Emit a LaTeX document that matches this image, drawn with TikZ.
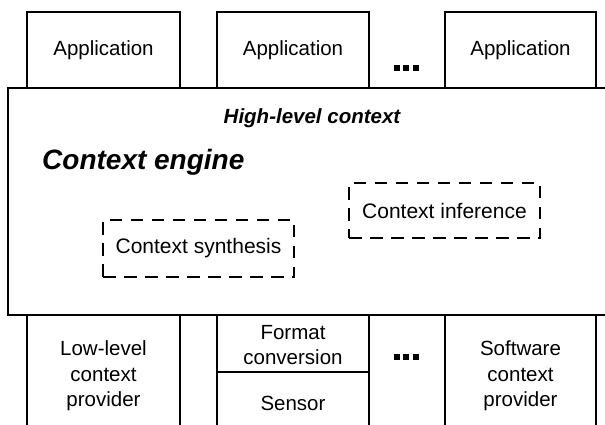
\documentclass[tikz,border=0pt]{standalone}
\usepackage{fontspec}
\setmainfont{Liberation Sans}
\begin{document}
\begin{tikzpicture}[x=1pt,y=-1pt,
  box/.style={draw,line width=1.5pt},
  lbl/.style={font=\fontsize{20.5}{25.5}\selectfont, align=center, inner sep=0pt},
  dbox/.style={draw, line width=2pt, dash pattern=on 12.5pt off 8.5pt, inner sep=0pt,
    font=\fontsize{21}{24}\selectfont},
  dots/.style={inner sep=0pt}]
\useasboundingbox (0,0) rectangle (605,424);
\clip (0,0) rectangle (605,424);
% top applications
\draw[box] (27,12) rectangle (180,88);
\draw[box] (217,12) rectangle (369,88);
\draw[box] (445,12) rectangle (596,88);
\node[lbl] (app1) at (103.5,50) {Application};
\node[lbl] (app2) at (293,50) {Application};
\node[lbl] (app3) at (520.5,50) {Application};
\node[dots] (dtop) at (406,68) {\rule{6pt}{6pt}\hspace{3.5pt}\rule{6pt}{6pt}\hspace{3.5pt}\rule{6pt}{6pt}};
% bottom providers
\draw[box] (27,315) rectangle (180,440);
\draw[box] (217,315) rectangle (369,440);
\draw[box] (217,372) -- (369,372);
\draw[box] (445,315) rectangle (596,440);
\node[lbl] (low) at (103.5,376) {Low-level\\context\\provider};
\node[lbl] (fmt) at (293,345) {Format\\conversion};
\node[lbl] (sen) at (293,403) {Sensor};
\node[lbl] (soft) at (520.5,376) {Software\\context\\provider};
\node[dots] (dbot) at (406,357) {\rule{6pt}{6pt}\hspace{3.5pt}\rule{6pt}{6pt}\hspace{3.5pt}\rule{6pt}{6pt}};
% context engine
\draw[box, fill=white] (8,88) rectangle (620,315);
\node[lbl, font=\fontsize{20.5}{24}\selectfont\bfseries\itshape] (hl) at (312,118) {High-level context};
\node[lbl, font=\fontsize{28}{30}\selectfont\bfseries\itshape, anchor=west] (ce) at (42,162) {Context engine};
\node[dbox, minimum width=191pt, minimum height=57pt] (syn) at (198.5,248.5) {Context synthesis};
\node[dbox, minimum width=191pt, minimum height=55pt] (inf) at (444.5,210.5) {Context inference};
\end{tikzpicture}
\end{document}
